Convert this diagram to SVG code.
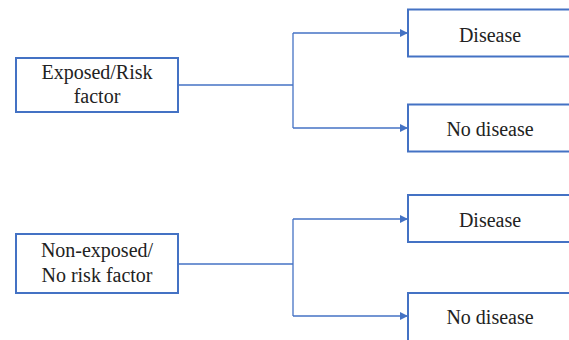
<svg xmlns="http://www.w3.org/2000/svg" width="569" height="340" viewBox="0 0 569 340" font-family="Liberation Serif, serif">
<style>
text{font-family:'Liberation Serif','Times New Roman',serif !important;font-size:20px;fill:#222;text-anchor:middle}
.box{fill:#fff;stroke:#4472C4;stroke-width:2}
.c{fill:none;stroke:#4472C4;stroke-width:1.3}
</style>
<defs>
<marker id="ah" viewBox="0 0 10 10" refX="10" refY="5" markerWidth="8" markerHeight="8" markerUnits="userSpaceOnUse" orient="auto">
<path d="M0,0 L10,5 L0,10 z" fill="#4472C4"/>
</marker>
</defs>
<g id="connectors">
<path class="c" d="M178,85 H293"/>
<path class="c" d="M293,33 V128"/>
<path class="c" d="M293,33 H408" marker-end="url(#ah)"/>
<path class="c" d="M293,128 H408" marker-end="url(#ah)"/>
<path class="c" d="M178,264 H293"/>
<path class="c" d="M293,219 V316"/>
<path class="c" d="M293,219 H408" marker-end="url(#ah)"/>
<path class="c" d="M293,316 H408" marker-end="url(#ah)"/>
</g>
<g id="exposed">
<rect class="box" x="16" y="58" width="162" height="54"/>
<text style="font-family:'Liberation Serif',serif !important" x="97" y="79">Exposed/Risk</text>
<text style="font-family:'Liberation Serif',serif !important" x="97" y="103">factor</text>
</g>
<g id="disease1">
<rect class="box" x="408" y="9.5" width="164" height="47"/>
<text style="font-family:'Liberation Serif',serif !important" x="490" y="42">Disease</text>
</g>
<g id="nodisease1">
<rect class="box" x="408" y="104.5" width="164" height="47"/>
<text style="font-family:'Liberation Serif',serif !important" x="490" y="136">No disease</text>
</g>
<g id="nonexposed">
<rect class="box" x="16" y="234" width="162" height="59"/>
<text style="font-family:'Liberation Serif',serif !important" x="97" y="257">Non-exposed/</text>
<text style="font-family:'Liberation Serif',serif !important" x="97" y="282">No risk factor</text>
</g>
<g id="disease2">
<rect class="box" x="408" y="195" width="164" height="47"/>
<text style="font-family:'Liberation Serif',serif !important" x="490" y="227">Disease</text>
</g>
<g id="nodisease2">
<rect class="box" x="408" y="293" width="164" height="50"/>
<text style="font-family:'Liberation Serif',serif !important" x="490" y="324">No disease</text>
</g>
</svg>
